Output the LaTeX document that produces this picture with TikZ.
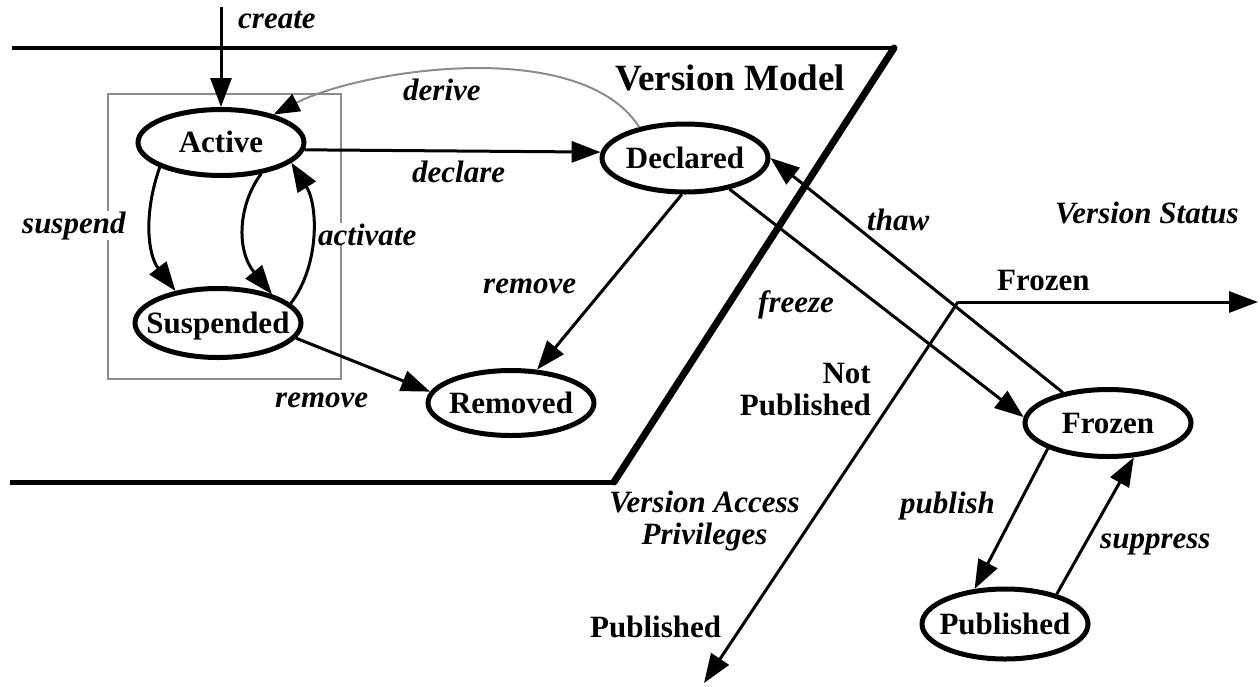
\documentclass[tikz,border=0pt]{standalone}
\usepackage{fontspec}
\setmainfont{Liberation Serif}
\usetikzlibrary{shapes.geometric,arrows.meta}
\newcommand{\sttext}[1]{\smash{\makebox[0pt]{\raisebox{-0.33em}{#1}}}}
\newcommand{\stfont}{\fontsize{31}{32}\selectfont\bfseries}
\newcommand{\lbfont}{\fontsize{31}{32}\selectfont\bfseries\itshape}
\begin{document}
\begin{tikzpicture}[x=1pt,y=-1pt,
  state/.style={ellipse, draw, line width=5pt, minimum width=166pt, minimum height=66pt, inner sep=0pt, font=\stfont},
  lbl/.style={font=\lbfont, inner sep=0pt, anchor=base west},
  axlbl/.style={font=\stfont, inner sep=0pt, anchor=base west},
  conn/.style={line width=3pt, -{Triangle[length=29pt,width=21pt]}},
  gbox/.style={draw=black!45, line width=2.5pt}
]
\useasboundingbox (0,0) rectangle (1260,686);

% version model region
\draw[gbox] (108,94) rectangle (341,379);
\coordinate (tl) at (12,48);
\coordinate (tr) at (894,48);
\coordinate (bl) at (10,482);
\coordinate (br) at (614,482);
\draw[line width=3.5pt] (tl) -- (tr);
\draw[line width=5pt] (bl) -- (br);
\draw[line width=7pt, line cap=round] (tr) -- (br);

% states
\node[state] (act) at (221,142.5) {\sttext{Active}};
\node[state, minimum height=69pt] (susp) at (218,323) {\sttext{Suspended}};
\node[state, minimum height=68pt] (decl) at (685,158) {\sttext{Declared}};
\node[state, minimum height=65pt] (rem) at (511,403) {\sttext{Removed}};
\node[state, minimum height=67pt] (froz) at (1108,423) {\sttext{Frozen}};
\node[state, minimum height=70pt] (pub) at (1005,624) {\sttext{Published}};

% labels
\node[lbl] (lcreate) at (238,28) {create};
\node[lbl, fill=white] (lsusp) at (22,233) {suspend};
\node[lbl, fill=white] (lact) at (318,245) {activate};
\node[lbl] (lrem2) at (275,407) {remove};
\node[lbl] (lder) at (403,100) {derive};
\node[lbl] (ldecl) at (412,182) {declare};
\node[lbl] (lrem1) at (483,293) {remove};
\node[font=\fontsize{37}{40}\selectfont\bfseries, inner sep=0pt, anchor=base west] (lvm) at (615,90) {Version Model};
\node[lbl] (lfreeze) at (758,312) {freeze};
\node[lbl] (lthaw) at (867,230) {thaw};
\node[lbl] (lvs) at (1055,223) {Version Status};
\node[axlbl] (lfrozen) at (997,290) {Frozen};
\node[font=\stfont, align=right, anchor=north east, inner sep=0pt] (lnp) at (871,362.5) {Not\\Published};
\node[font=\lbfont, align=center, anchor=north, inner sep=0pt] (lvap) at (704.5,490.5) {Version Access\\Privileges};
\node[axlbl] (lpubd) at (590,637) {Published};
\node[lbl] (lpublish) at (900,513) {publish};
\node[lbl] (lsuppress) at (1100,548) {suppress};

% connectors
\coordinate (ccreate) at (221,7);
\draw[conn] (ccreate) -- (act.north);
\draw[conn] (act.-158) .. controls (143,215) and (148,255) .. (susp.143);
\draw[conn] (act.-38) .. controls (238,205) and (236,250) .. (susp.28);
\draw[conn] (susp.15) .. controls (320,265) and (318,205) .. (act.-16);
\draw[conn] (act.-5) -- (decl.176);
\draw[conn] (decl.-95) -- (rem.52);
\draw[conn] (susp.-11) -- (rem.172);
\draw[line width=2pt, draw=black!45, -{Triangle[length=26pt,width=19pt,color=black]}] (decl.146) .. controls (580,35) and (360,70) .. (act.28);
\draw[conn] (decl.-35) -- (froz.176);
\draw[conn] (froz.146) -- (decl.east);
\draw[conn] (froz.-157) -- (pub.131);
\draw[conn] (pub.30) -- (froz.-53);

% status axes
\coordinate (vs) at (958,302);
\coordinate (xend) at (1258,302);
\coordinate (yend) at (704,683);
\draw[conn] (vs) -- (xend);
\draw[conn] (vs) -- (yend);
\end{tikzpicture}
\end{document}
